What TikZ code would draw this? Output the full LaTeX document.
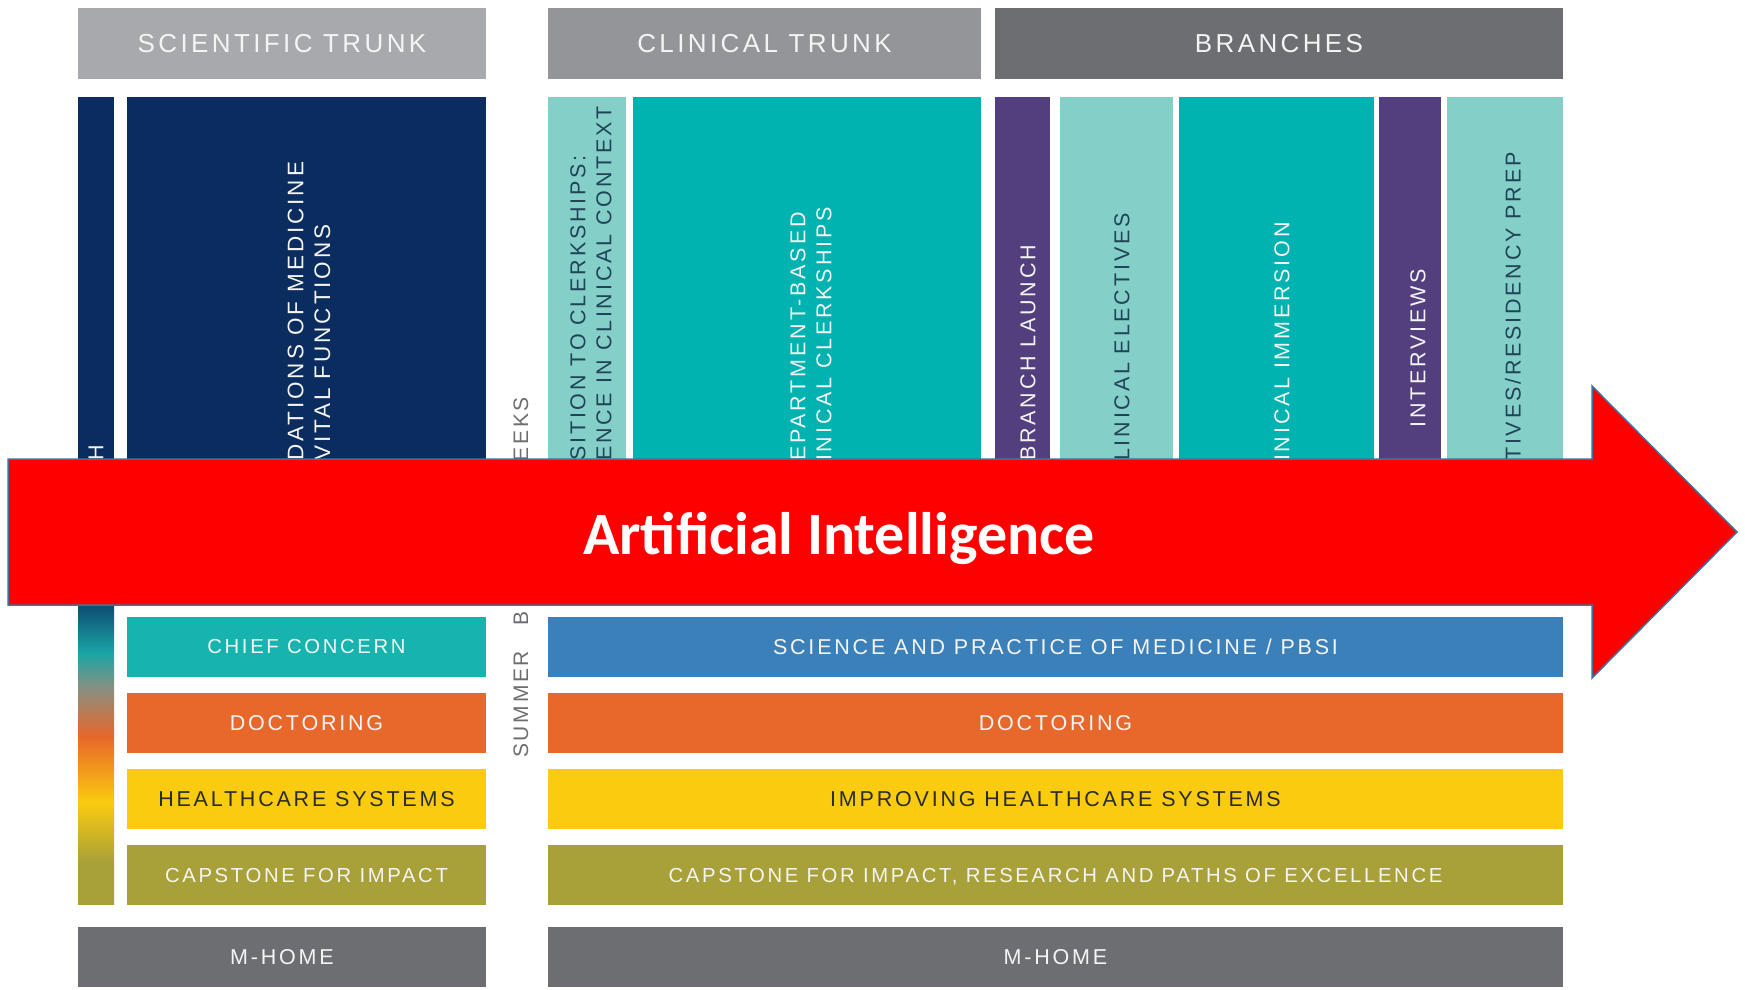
\documentclass[tikz,border=0pt]{standalone}
\usepackage{fontspec}
\usepackage{tikz}
\newfontfamily\lblfont[LetterSpace=13]{Liberation Sans}
\newfontfamily\aifont{Carlito}

\definecolor{scigray}{HTML}{A7A9AC}
\definecolor{clingray}{HTML}{939598}
\definecolor{brgray}{HTML}{6D6E71}
\definecolor{navy}{HTML}{0B2C5E}
\definecolor{lteal}{HTML}{85CFC9}
\definecolor{mteal}{HTML}{00B3B0}
\definecolor{purp}{HTML}{533F7E}
\definecolor{chiefteal}{HTML}{17B4AF}
\definecolor{spmblue}{HTML}{3C80B9}
\definecolor{docorange}{HTML}{E8672A}
\definecolor{hcsyellow}{HTML}{FACB0E}
\definecolor{capolive}{HTML}{A8A13A}
\definecolor{spinetop}{HTML}{0D4C72}
\definecolor{spinemid}{HTML}{1AA5A6}
\definecolor{spinegray}{HTML}{8A8F80}
\definecolor{lighttxt}{HTML}{F4F4F4}
\definecolor{darktxt}{HTML}{2B2B2B}
\definecolor{inktxt}{HTML}{1F4457}
\definecolor{summergray}{HTML}{6D6E71}
\definecolor{aired}{HTML}{FF0000}
\definecolor{arrowedge}{HTML}{41719C}

\pgfdeclareverticalshading{spine}{100bp}{color(0bp)=(capolive); color(32bp)=(capolive);
  color(42bp)=(hcsyellow); color(53bp)=(docorange); color(61bp)=(spinegray);
  color(67bp)=(spinemid); color(75bp)=(spinetop); color(100bp)=(spinetop)}

\tikzset{
  trunkhead/.style={minimum height=71pt, inner sep=0pt, text=lighttxt,
    font=\lblfont\fontsize{26}{30}\selectfont, text height=18.6pt, text depth=0pt},
  rowbar/.style={minimum height=60pt, inner sep=0pt, text=lighttxt,
    font=\lblfont\fontsize{21.5}{25}\selectfont, text height=15.4pt, text depth=0pt},
  tightbar/.style={rowbar, font=\lblfont\fontsize{20.3}{25}\selectfont, text height=14.5pt},
  coltext/.style={rotate=90, anchor=west, inner sep=0pt, align=left,
    font=\lblfont\fontsize{21.5}{26}\selectfont}
}

\begin{document}
\begin{tikzpicture}[x=1pt,y=-1pt]
    \useasboundingbox (0,0) rectangle (1745,989);
    \fill[white] (0,0) rectangle (1745,989);

    % Headers
    \node[trunkhead, fill=scigray, minimum width=408pt] (sci) at (282,43.5) {SCIENTIFIC TRUNK};
    \node[trunkhead, fill=clingray, minimum width=433pt] (clin) at (764.5,43.5) {CLINICAL TRUNK};
    \node[trunkhead, fill=brgray, minimum width=568pt] (branches) at (1279,43.5) {BRANCHES};

    % Columns - scientific trunk
    \fill[navy] (78,97) rectangle (114,605);
    \shade[shading=spine] (78,605) rectangle (114,904);
    \fill[navy] (127,97) rectangle (486,600);

    % Columns - clinical trunk
    \fill[lteal] (548,97) rectangle (626,600);
    \fill[mteal] (633,97) rectangle (981,600);

    % Columns - branches
    \foreach \a/\b/\c in {995/1050/purp, 1060/1173/lteal, 1179/1374/mteal, 1379/1441/purp, 1447/1563/lteal} {
        \fill[\c] (\a,97) rectangle (\b,600);
    }

    % Column labels
    \node[coltext, text=lighttxt] (spinelbl) at (96,461) {H};
    \node[coltext, text=lighttxt, font=\lblfont\fontsize{22.5}{27}\selectfont] (found) at (309,461) {DATIONS OF MEDICINE\\VITAL FUNCTIONS};
    \node[coltext, text=inktxt] (transit) at (591,461) {SITION TO CLERKSHIPS:\\ENCE IN CLINICAL CONTEXT};
    \node[coltext, text=lighttxt] (dept) at (811,461) {EPARTMENT-BASED\\INICAL CLERKSHIPS};
    \node[coltext, text=lighttxt] (launch) at (1028,461) {BRANCH LAUNCH};
    \node[coltext, text=inktxt] (electives) at (1122,461) {LINICAL ELECTIVES};
    \node[coltext, text=lighttxt] (immersion) at (1282,461) {INICAL IMMERSION};
    \node[coltext, text=lighttxt, anchor=center] (interviews) at (1418,348) {INTERVIEWS};
    \node[coltext, text=inktxt] (resprep) at (1513,461) {TIVES/RESIDENCY PREP};

    % Summer break
    \node[coltext, text=summergray, font=\lblfont\fontsize{21}{24}\selectfont] (summer) at (521,758) {SUMMER\hspace{0.8em} B};
    \node[coltext, text=summergray, anchor=east, font=\lblfont\fontsize{21}{24}\selectfont] (weeks) at (521,397) {EEKS};

    % Rows - scientific trunk
    \node[tightbar, fill=chiefteal, minimum width=359pt] (Lcc) at (306.5,646.5) {CHIEF CONCERN};
    \node[rowbar, fill=docorange, minimum width=359pt] (Ldoc) at (306.5,722.5) {DOCTORING};
    \node[rowbar, fill=hcsyellow, text=darktxt, minimum width=359pt] (Lhcs) at (306.5,798.5) {HEALTHCARE SYSTEMS};
    \node[tightbar, fill=capolive, minimum width=359pt] (Lcap) at (306.5,875) {CAPSTONE FOR IMPACT};
    \node[rowbar, fill=brgray, minimum width=408pt] (Lhome) at (282,956.5) {M-HOME};

    % Rows - clinical trunk and branches
    \node[rowbar, fill=spmblue, minimum width=1015pt] (Rspm) at (1055.5,646.5) {SCIENCE AND PRACTICE OF MEDICINE / PBSI};
    \node[rowbar, fill=docorange, minimum width=1015pt] (Rdoc) at (1055.5,722.5) {DOCTORING};
    \node[rowbar, fill=hcsyellow, text=darktxt, minimum width=1015pt] (Rhcs) at (1055.5,798.5) {IMPROVING HEALTHCARE SYSTEMS};
    \node[tightbar, fill=capolive, minimum width=1015pt] (Rcap) at (1055.5,875) {CAPSTONE FOR IMPACT, RESEARCH AND PATHS OF EXCELLENCE};
    \node[rowbar, fill=brgray, minimum width=1015pt] (Rhome) at (1055.5,956.5) {M-HOME};

    % Arrow
    \filldraw[fill=aired, draw=arrowedge, line width=1.5pt, line join=miter]
        (8,459) -- (1592,459) -- (1592,386) -- (1737,532) -- (1592,678) -- (1592,605) -- (8,605) -- cycle;
    \node[anchor=base, inner sep=0pt, text=white, font=\aifont\bfseries\fontsize{60}{72}\selectfont] (ai) at (839,554) {Artificial Intelligence};
\end{tikzpicture}
\end{document}
